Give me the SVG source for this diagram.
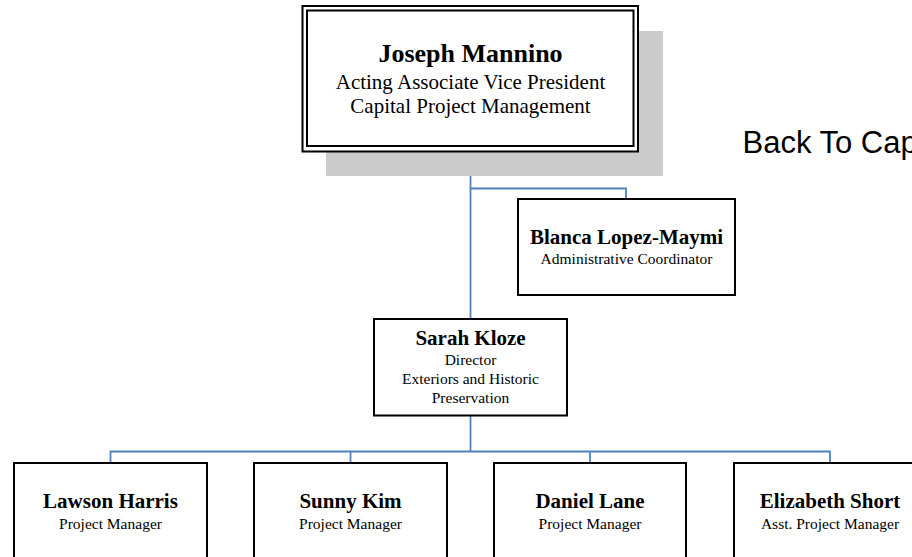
<svg xmlns="http://www.w3.org/2000/svg" width="912" height="557" viewBox="0 0 912 557">
<style>
.box{fill:#fff;stroke:#000;stroke-width:2}
.conn{fill:none;stroke:#4F81BD;stroke-width:1.8}
.nm{font-family:"Liberation Serif","Times New Roman",serif;font-weight:bold;font-size:21px;text-anchor:middle;fill:#000}
.sub{font-family:"Liberation Serif","Times New Roman",serif;font-size:15.5px;text-anchor:middle;fill:#000}
</style>
<rect width="912" height="557" fill="#fff"/>
<g id="connectors">
<path class="conn" d="M470.5 151.5 V319"/>
<path class="conn" d="M470.5 188.5 H626 V199"/>
<path class="conn" d="M470.5 415.5 V451.5"/>
<path class="conn" d="M110.5 463 V451.5 H830 V463"/>
<path class="conn" d="M350.5 451.5 V463"/>
<path class="conn" d="M590 451.5 V463"/>
</g>
<g id="node-joseph">
<rect x="326" y="31" width="337" height="145" fill="#cccccc"/>
<rect x="302.5" y="6" width="335.5" height="145.5" fill="#fff" stroke="#000" stroke-width="2"/>
<rect x="307" y="10.5" width="326.5" height="135.5" fill="none" stroke="#000" stroke-width="2"/>
<text x="470.5" y="62" class="nm" style="font-size:26px">Joseph Mannino</text>
<text x="470.5" y="89" class="sub" style="font-size:21px">Acting Associate Vice President</text>
<text x="470.5" y="113" class="sub" style="font-size:21px">Capital Project Management</text>
</g>
<g id="node-blanca">
<rect class="box" x="518" y="199" width="217" height="96"/>
<text x="626.5" y="243.5" class="nm">Blanca Lopez-Maymi</text>
<text x="626.5" y="263.5" class="sub">Administrative Coordinator</text>
</g>
<g id="node-sarah">
<rect class="box" x="374" y="319" width="193" height="96.5"/>
<text x="470.5" y="344.5" class="nm">Sarah Kloze</text>
<text x="470.5" y="365" class="sub">Director</text>
<text x="470.5" y="384" class="sub">Exteriors and Historic</text>
<text x="470.5" y="403" class="sub">Preservation</text>
</g>
<g id="node-lawson">
<rect class="box" x="14" y="463" width="193" height="110"/>
<text x="110.5" y="508" class="nm">Lawson Harris</text>
<text x="110.5" y="528.5" class="sub">Project Manager</text>
</g>
<g id="node-sunny">
<rect class="box" x="254" y="463" width="193" height="110"/>
<text x="350.5" y="508" class="nm">Sunny Kim</text>
<text x="350.5" y="528.5" class="sub">Project Manager</text>
</g>
<g id="node-daniel">
<rect class="box" x="494" y="463" width="192" height="110"/>
<text x="590" y="508" class="nm">Daniel Lane</text>
<text x="590" y="528.5" class="sub">Project Manager</text>
</g>
<g id="node-elizabeth">
<rect class="box" x="734" y="463" width="193" height="110"/>
<text x="830" y="508" class="nm">Elizabeth Short</text>
<text x="830" y="528.5" class="sub">Asst. Project Manager</text>
</g>
<text x="742.5" y="153" font-family="'Liberation Sans',Arial,sans-serif" font-size="31" fill="#000">Back To Cap</text>
</svg>
